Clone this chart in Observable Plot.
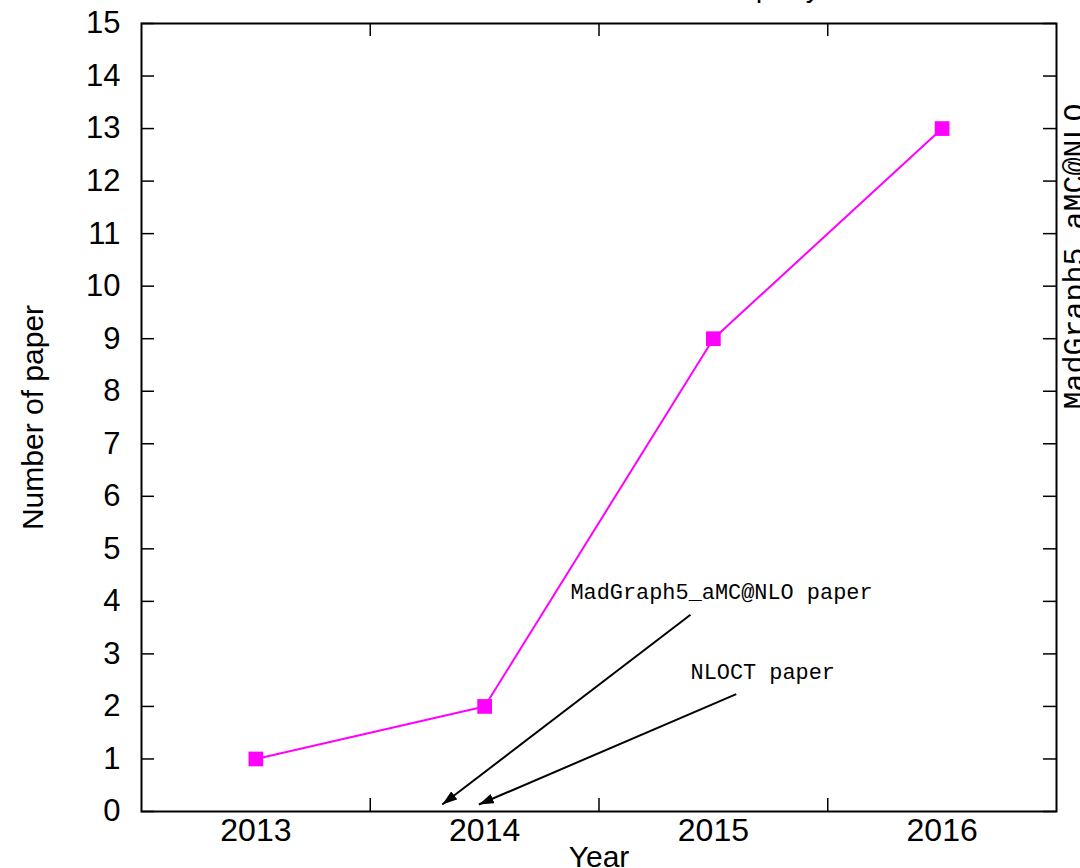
<!DOCTYPE html>
<html>
<head>
<meta charset="utf-8">
<script src="https://cdn.jsdelivr.net/npm/d3@7"></script>
<script src="https://cdn.jsdelivr.net/npm/@observablehq/plot@0.6"></script>
<style>
  body { margin: 0; background: #fff; }
  svg { overflow: visible; }
</style>
</head>
<body>
<div id="chart"></div>
<script>
// ---- data ----
const years = [2013, 2014, 2015, 2016];
const papers = [1, 2, 9, 13];
const xTickLabels = [2013, 2014, 2015, 2016];
const xMinorTicks = [2013.5, 2014.5, 2015.5];
const yTickValues = [0, 1, 2, 3, 4, 5, 6, 7, 8, 9, 10, 11, 12, 13, 14, 15];
const arrowFromX = [2014.90, 2015.10];
const arrowFromY = [3.744, 2.233];
const arrowToX = [2013.815, 2013.975];
const arrowToY = [0.133, 0.133];
const noteText = ["MadGraph5_aMC@NLO paper", "NLOCT paper"];
const noteX = [2014.375, 2014.90];
const noteY = [4.17, 2.665];
const keyText = ["MadGraph5_aMC@NLO"];
const titleText = ["NLOCT citations per year"];
const xLabel = ["Year"];
const yLabel = ["Number of paper"];

// ---- layout ----
const W = 1080, H = 868;
const mL = 141, mR = 24, mT = 23, mB = 57;
const pw = W - mL - mR, ph = H - mT - mB;
const tl = 13;

const series = years.map((y, i) => ({year: y, n: papers[i]}));
const arrows = arrowFromX.map((x, i) => ({x1: x, y1: arrowFromY[i], x2: arrowToX[i], y2: arrowToY[i]}));
const notes = noteText.map((t, i) => ({t, x: noteX[i], y: noteY[i]}));

const plot = Plot.plot({
  width: W, height: H,
  marginLeft: mL, marginRight: mR, marginTop: mT, marginBottom: mB,
  style: {fontFamily: "'Liberation Sans', Arial, sans-serif", fontSize: "32px", color: "black", background: "white", overflow: "visible"},
  x: {domain: [2012.5, 2016.5]},
  y: {domain: [0, 15]},
  marks: [
    Plot.axisX(xTickLabels, {tickSize: 0, tickPadding: 7, tickFormat: d => String(d), label: null, fontSize: 32}),
    Plot.axisY(yTickValues, {tickSize: 0, tickPadding: 21, tickFormat: d => String(d), label: null, fontSize: 31}),
    // inward ticks on all four sides
    Plot.tickX(xMinorTicks, {x: d => d, insetTop: ph - tl, stroke: "black", strokeWidth: 1.5}),
    Plot.tickX(xMinorTicks, {x: d => d, insetBottom: ph - tl, stroke: "black", strokeWidth: 1.5}),
    Plot.tickY(yTickValues, {y: d => d, insetRight: pw - tl, stroke: "black", strokeWidth: 1.5}),
    Plot.tickY(yTickValues, {y: d => d, insetLeft: pw - tl, stroke: "black", strokeWidth: 1.5}),
    Plot.frame({stroke: "black", strokeWidth: 2}),
    // series
    Plot.line(series, {x: "year", y: "n", stroke: "#ff00ff", strokeWidth: 2}),
    Plot.dot(series, {x: "year", y: "n", symbol: "square", r: 8.3, fill: "#ff00ff", stroke: "none"}),
    // annotations
    Plot.link(arrows, {x1: "x1", y1: "y1", x2: "x2", y2: "y2", stroke: "black", strokeWidth: 2}),
    Plot.text(notes, {x: "x", y: "y", text: "t", textAnchor: "start", lineAnchor: "middle", fontFamily: "'Liberation Mono', 'Courier New', monospace", fontSize: 21.9}),
    // key label (right, rotated)
    Plot.text(keyText, {frameAnchor: "top-right", text: d => d, rotate: -90, dx: 18, dy: 233, textAnchor: "middle", lineAnchor: "middle", fontFamily: "'Liberation Mono', 'Courier New', monospace", fontSize: 30}),
    // axis titles
    Plot.text(yLabel, {frameAnchor: "left", text: d => d, rotate: -90, dx: 32.5 - mL, textAnchor: "middle", lineAnchor: "middle", fontSize: 30}),
    Plot.text(xLabel, {frameAnchor: "bottom", text: d => d, dy: 34, textAnchor: "middle", lineAnchor: "top", fontSize: 30}),
    // title (cut off at the top)
    Plot.text(titleText, {frameAnchor: "top-left", text: d => d, dx: 535 - mL, dy: -46.6, textAnchor: "start", lineAnchor: "top", fontSize: 29})
  ]
});

// filled arrowheads
const svg = d3.select(plot);
svg.append("defs").append("marker")
  .attr("id", "ah")
  .attr("viewBox", "0 0 15 10")
  .attr("refX", 15).attr("refY", 5)
  .attr("markerWidth", 15).attr("markerHeight", 10)
  .attr("markerUnits", "userSpaceOnUse")
  .attr("orient", "auto")
  .append("path").attr("d", "M0,0L15,5L0,10Z").attr("fill", "black");
svg.selectAll('g[aria-label="link"] path').attr("marker-end", "url(#ah)");

document.getElementById("chart").appendChild(plot);
</script>
</body>
</html>
